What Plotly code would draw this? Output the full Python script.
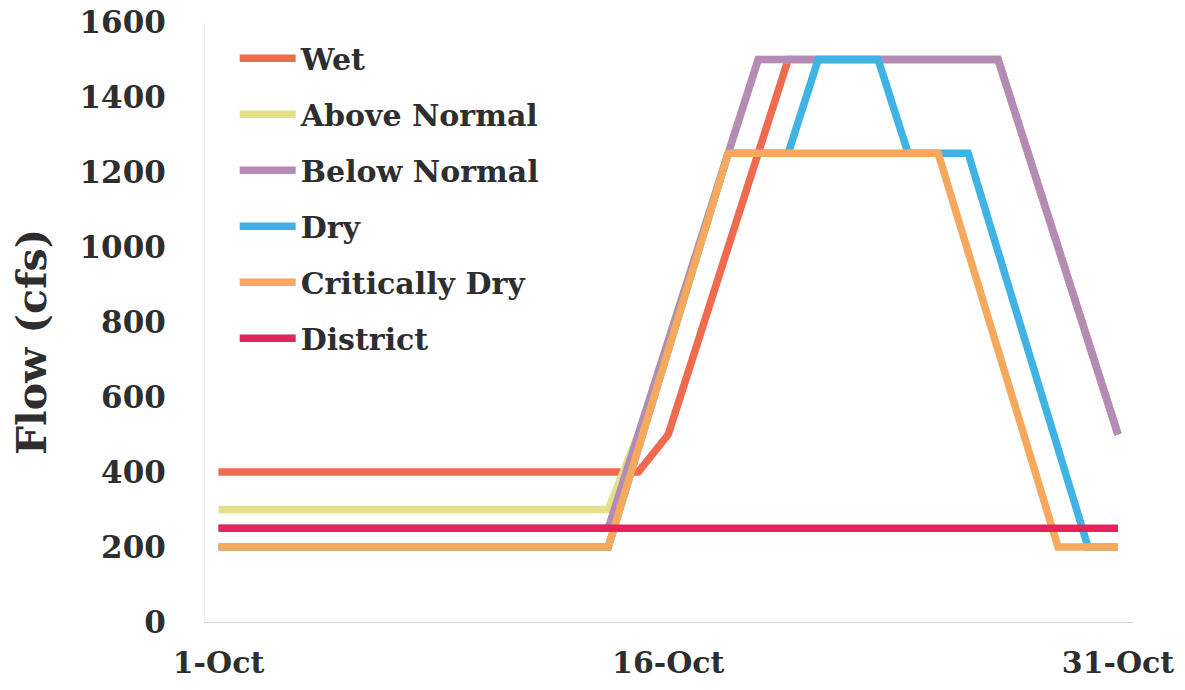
import plotly.graph_objects as go

days = list(range(1, 32))
tick_days = [1, 16, 31]
tick_labels = ["1-Oct", "16-Oct", "31-Oct"]

wet = [400]*15 + [500, 750, 1000, 1250] + [1500]*8 + [1250, 1000, 750, 500]
above_normal = [300]*14 + [500, 750, 1000, 1250] + [1500]*9 + [1250, 1000, 750, 500]
below_normal = [250]*14 + [500, 750, 1000, 1250] + [1500]*9 + [1250, 1000, 750, 500]
dry = [200]*14 + [462.5, 725, 987.5] + [1250]*3 + [1500]*3 + [1250]*3 + [987.5, 725, 462.5, 200, 200]
critically_dry = [200]*14 + [462.5, 725, 987.5] + [1250]*8 + [987.5, 725, 462.5] + [200]*3
district = [250]*31

series = [
    ("Wet", wet, "#EF6A4E"),
    ("Above Normal", above_normal, "#E4E08A"),
    ("Below Normal", below_normal, "#B48AB7"),
    ("Dry", dry, "#3FB3E3"),
    ("Critically Dry", critically_dry, "#F6A85C"),
    ("District", district, "#E2245B"),
]

FONT = "DejaVu Serif"
TXT = "#2e2e2e"

fig = go.Figure()
for i, (name, vals, col) in enumerate(series):
    fig.add_trace(go.Scatter(
        x=days, y=vals, mode="lines", name=name, legendgroup=f"g{i}",
        line=dict(color=col, width=7.5),
    ))

fig.update_layout(
    width=1185, height=690,
    margin=dict(l=205, r=52, t=22, b=68, autoexpand=False),
    paper_bgcolor="white", plot_bgcolor="white",
    font=dict(family=FONT, color=TXT, size=30, weight="bold"),
    showlegend=True,
    legend=dict(
        x=0.032, y=0.983, xanchor="left", yanchor="top",
        bgcolor="rgba(0,0,0,0)", font=dict(family=FONT, size=30, color=TXT, weight="bold"),
        tracegroupgap=14, itemwidth=56,
    ),
    xaxis=dict(
        range=[0.55, 31.5], tickvals=tick_days, ticktext=tick_labels,
        showgrid=False, zeroline=False, showline=True, linecolor="#d6d0d0", linewidth=1,
        ticks="", ticklabelstandoff=14, automargin=False, ticklabeloverflow="allow",
        tickfont=dict(family=FONT, size=30, color=TXT, weight="bold"),
    ),
    yaxis=dict(
        range=[0, 1600], dtick=200, showgrid=False, zeroline=False,
        showline=True, linecolor="#f0f0f0", linewidth=1,
        ticks="", ticklabelstandoff=32, automargin=False, ticklabeloverflow="allow",
        tickfont=dict(family=FONT, size=31, color=TXT, weight="bold"),
    ),
    annotations=[dict(
        text="Flow (cfs)", textangle=-90, xref="paper", yref="paper",
        x=-(205 - 32) / 928, y=(622 - 342) / 600, xanchor="center", yanchor="middle",
        showarrow=False, font=dict(family=FONT, size=41, color=TXT, weight="bold"),
    )],
)

fig.write_html(
    "out.html",
    config={"displayModeBar": False},
    post_script="document.body.style.margin='0';document.body.style.overflow='hidden';",
)
